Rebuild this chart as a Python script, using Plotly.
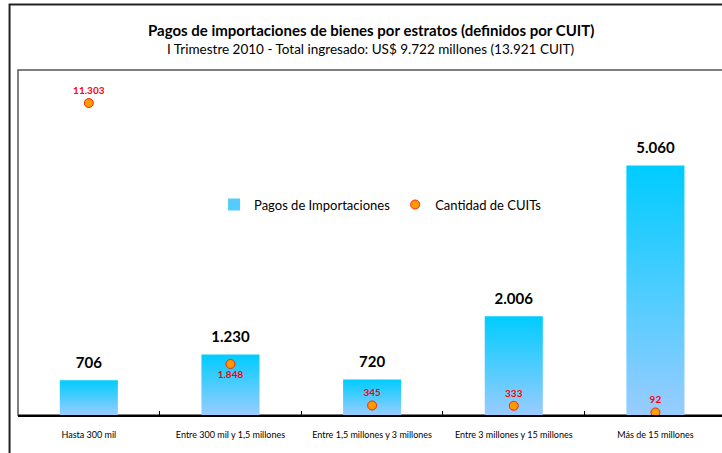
import plotly.graph_objects as go

# Data
estratos = ["Hasta 300 mil", "Entre 300 mil y 1,5 millones", "Entre 1,5 millones y 3 millones",
            "Entre 3 millones y 15 millones", "Más de 15 millones"]
pagos = [706, 1230, 720, 2006, 5060]          # US$ millones
cuits = [11303, 1848, 345, 333, 92]            # cantidad de CUITs
cuit_label_pos = ["top center", "bottom center", "top center", "top center", "top center"]

FONT = "Lato"
BAR_W = 0.41
pos = list(range(len(estratos)))

fig = go.Figure()

# legend entry only (the real bars are drawn below with a gradient fill)
fig.add_trace(go.Bar(x=[None], y=[None], name="Pagos de Importaciones",
                     marker=dict(color="#55CCFF", line=dict(width=0))))

# Bars drawn as filled shapes so they can carry a vertical gradient like the original
for i, v in enumerate(pagos):
    fig.add_trace(go.Scatter(
        x=[i - BAR_W / 2, i - BAR_W / 2, i + BAR_W / 2, i + BAR_W / 2, i - BAR_W / 2],
        y=[0, v, v, 0, 0],
        mode="lines", fill="toself", line=dict(width=0),
        fillgradient=dict(type="vertical", colorscale=[[0, "#99CCFF"], [1, "#00CCFF"]]),
        showlegend=False, hoverinfo="skip",
    ))

# Bar value labels
fig.add_trace(go.Scatter(
    x=pos, y=pagos, mode="markers+text",
    marker=dict(size=12, opacity=0),
    texttemplate="<b>%{y:,.0f}</b>", textposition="top center",
    textfont=dict(family=FONT, size=15, color="black"),
    showlegend=False, hoverinfo="skip",
))

# CUIT counts on secondary axis
fig.add_trace(go.Scatter(
    x=pos, y=cuits, yaxis="y2", mode="markers+text",
    name="Cantidad de CUITs",
    marker=dict(size=9, color="#FF9900", line=dict(color="#FF2200", width=1)),
    texttemplate="<b>%{y:,.0f}</b>", textposition=cuit_label_pos,
    textfont=dict(family=FONT, size=10, color="#FF0000"),
))

fig.update_layout(
    template="none",
    width=722, height=453,
    margin=dict(l=18, r=0, t=70, b=38, autoexpand=False),
    paper_bgcolor="white", plot_bgcolor="white",
    separators=",.",
    font=dict(family=FONT, color="black"),
    showlegend=True,
    legend=dict(orientation="h", x=0.515, y=0.61, xanchor="center", yanchor="middle",
                font=dict(family=FONT, size=13), bgcolor="rgba(0,0,0,0)",
                itemwidth=30, tracegroupgap=0),
    xaxis=dict(range=[-0.5, 4.47], tickmode="array", tickvals=pos, ticktext=estratos,
               ticks="", showgrid=False, zeroline=False, automargin=False,
               showline=True, linecolor="black", linewidth=1.5,
               tickfont=dict(family=FONT, size=9), ticklabelstandoff=10,
               minor=dict(tickmode="array", tickvals=[0.5, 1.5, 2.5, 3.5],
                          ticks="inside", ticklen=4, tickcolor="black", showgrid=False)),
    yaxis=dict(range=[0, 7000], visible=False, showgrid=False, zeroline=False, automargin=False),
    yaxis2=dict(range=[0, 12500], overlaying="y", side="right", visible=False,
                showgrid=False, zeroline=False, automargin=False),
    annotations=[
        dict(text="<b>Pagos de importaciones de bienes por estratos (definidos por CUIT)</b>",
             xref="paper", yref="paper", x=0.501, y=1.115, yanchor="middle", showarrow=False,
             font=dict(family=FONT, size=15, color="black")),
        dict(text="I Trimestre 2010 - Total ingresado: US$ 9.722 millones (13.921 CUIT)",
             xref="paper", yref="paper", x=0.501, y=1.06, yanchor="middle", showarrow=False,
             font=dict(family=FONT, size=13.5, color="black")),
    ],
    shapes=[
        # outer chart border
        dict(type="rect", xref="paper", yref="paper", x0=-0.012, x1=1.05, y0=-0.2, y1=1.19,
             line=dict(color="#222222", width=2), layer="above"),
        # plot area border
        dict(type="rect", xref="paper", yref="paper", x0=0, x1=1.05, y0=0, y1=1,
             line=dict(color="#555555", width=1.5), layer="below"),
    ],
)

# drop the default page margin so the figure sits at the window origin
fig.write_html("out.html", config={"displayModeBar": False},
               post_script="document.body.style.margin='0';")
